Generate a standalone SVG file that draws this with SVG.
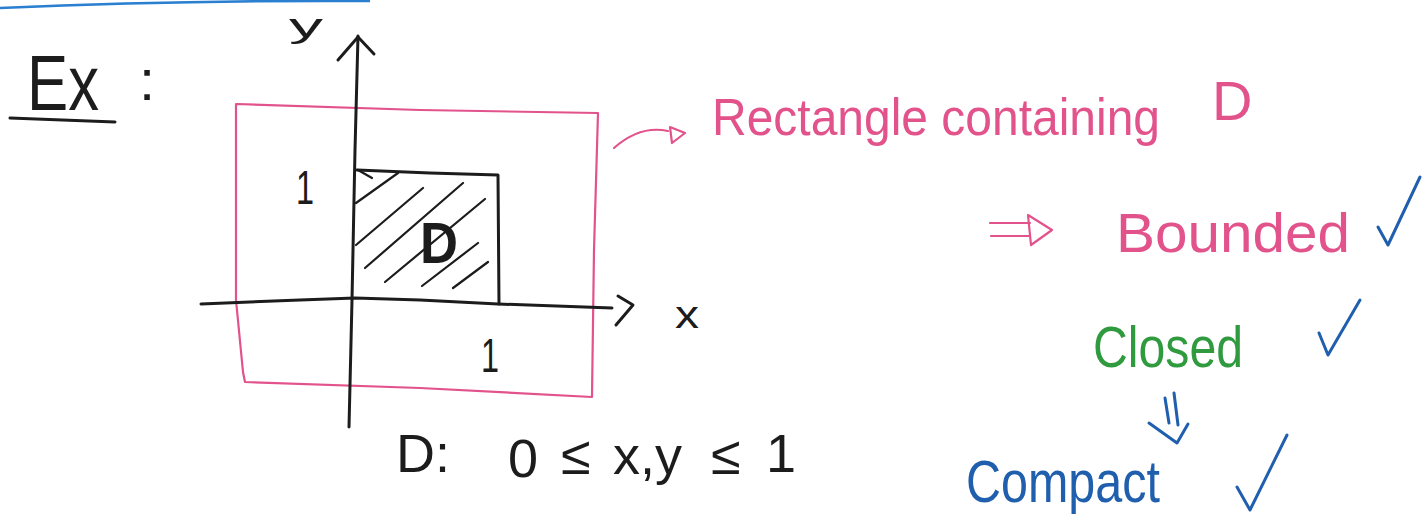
<svg xmlns="http://www.w3.org/2000/svg" width="1424" height="522" viewBox="0 0 1424 522">
<style>
.ink{fill:none;stroke:#1c1c1c;stroke-width:3;stroke-linecap:round;stroke-linejoin:round}
.thin{fill:none;stroke:#1c1c1c;stroke-width:2.2;stroke-linecap:round}
.pink{fill:none;stroke:#e2528b;stroke-width:2.2;stroke-linecap:round;stroke-linejoin:round}
.blue{fill:none;stroke:#1f5fae;stroke-width:3;stroke-linecap:round;stroke-linejoin:round}
.t{font-family:"Liberation Sans",Arial,sans-serif}
.tk{fill:#1c1c1c}
.tp{fill:#e2528b}
.tg{fill:#2f9a3e}
.tb{fill:#1f5fae}
</style>
<rect width="1424" height="522" fill="#ffffff"/>
<g id="top-line"><path d="M0 8 Q180 0 370 1" fill="none" stroke="#2a7fd0" stroke-width="2.5"/></g>
<g id="ex-label">
<text class="t tk" x="27" y="110" font-size="78" textLength="72" lengthAdjust="spacingAndGlyphs">Ex</text>
<path class="ink" d="M10 118 Q60 120 115 122"/>
<text class="t tk" x="139" y="100" font-size="58">:</text>
</g>
<g id="bounding-rect">
<path class="pink" d="M237 104 L420 110 L598 113 L594 250 L592 397 L420 388 L245 382 L243 372 L236 300 L236 104"/>
</g>
<g id="axes">
<path class="ink" d="M358 36 L355 150 L352 300 L349 427"/>
<path class="ink" d="M338 60 L358 37 L374 54"/>
<path class="ink" d="M201 304 L300 300 L355 298 L420 300 L498 304 L612 308"/>
<path class="ink" d="M618 296 L633 305 L616 325"/>
<text class="t tk" x="289" y="37" font-size="34" textLength="34" lengthAdjust="spacingAndGlyphs">y</text>
<text class="t tk" x="675" y="328" font-size="38" textLength="24" lengthAdjust="spacingAndGlyphs">x</text>
<text class="t tk" x="296" y="204" font-size="48" textLength="18" lengthAdjust="spacingAndGlyphs">1</text>
<text class="t tk" x="481" y="372" font-size="48" textLength="18" lengthAdjust="spacingAndGlyphs">1</text>
</g>
<g id="region-D">
<path class="ink" d="M357 170 L430 173 L498 175 L499 304"/>
<path class="thin" d="M358 170 L372 178 M356 203 L398 173 M356 245 L423 188 M365 268 L463 183 M385 282 L485 199 M422 286 L478 243 M453 288 L488 262"/>
<text class="t tk" x="420" y="263" font-size="58" font-weight="bold" textLength="38" lengthAdjust="spacingAndGlyphs">D</text>
</g>
<g id="definition">
<text class="t tk" font-size="54"><tspan x="396" y="472">D:</tspan><tspan x="508" y="477">0</tspan><tspan x="561" y="474">≤</tspan><tspan x="613" y="474">x,y</tspan><tspan x="711" y="474">≤</tspan><tspan x="766" y="472">1</tspan></text>
</g>
<g id="rect-note">
<path class="pink" d="M614 148 Q640 125 668 131"/>
<path class="pink" d="M670 127 L685 133 L672 143 Z"/>
<text class="t tp" x="712" y="135" font-size="52" textLength="448" lengthAdjust="spacingAndGlyphs">Rectangle containing</text>
<text class="t tp" x="1212" y="120" font-size="56">D</text>
</g>
<g id="bounded">
<path class="pink" d="M990 223 L1030 223 M991 236 L1030 236"/>
<path class="pink" d="M1028 215 L1052 230 L1031 245 Z"/>
<text class="t tp" x="1116" y="252" font-size="56" textLength="234" lengthAdjust="spacingAndGlyphs">Bounded</text>
<path class="blue" d="M1378 227 L1388 245 L1420 177"/>
</g>
<g id="closed">
<text class="t tg" x="1093" y="367" font-size="58" textLength="150" lengthAdjust="spacingAndGlyphs">Closed</text>
<path class="blue" d="M1319 333 L1328 355 L1360 300"/>
</g>
<g id="implies-down">
<path class="blue" stroke-width="2.5" d="M1165 398 L1169 423 M1174 393 L1178 425 M1149 423 L1177 443 L1188 424"/>
</g>
<g id="compact">
<text class="t tb" x="966" y="502" font-size="60" textLength="194" lengthAdjust="spacingAndGlyphs">Compact</text>
<path class="blue" d="M1237 487 L1250 510 L1287 435"/>
</g>
</svg>
